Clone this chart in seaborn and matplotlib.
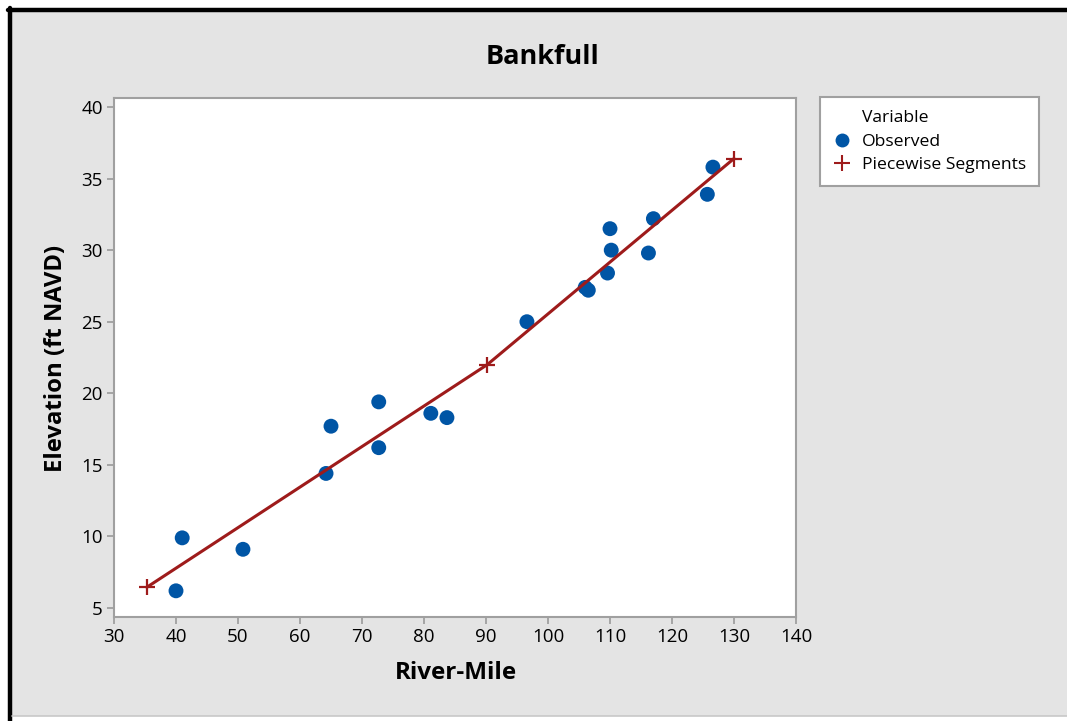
import pandas as pd
import matplotlib.pyplot as plt
import seaborn as sns
from matplotlib.lines import Line2D
from matplotlib.patches import Rectangle

# observed bankfull elevations
river_mile = [40.0, 41.0, 50.8, 64.2, 65.0, 72.7, 72.7, 81.1, 83.7, 96.6,
              106.0, 106.5, 109.6, 110.0, 110.2, 116.2, 117.0, 125.7, 126.6]
elevation = [6.2, 9.9, 9.1, 14.4, 17.7, 19.4, 16.2, 18.6, 18.3, 25.0,
             27.4, 27.2, 28.4, 31.5, 30.0, 29.8, 32.2, 33.9, 35.8]

# piecewise segment break points
seg_mile = [35.3, 90.2, 130.0]
seg_elev = [6.45, 22.0, 36.4]

obs = pd.DataFrame({'River-Mile': river_mile, 'Elevation': elevation})
seg = pd.DataFrame({'River-Mile': seg_mile, 'Elevation': seg_elev})

blue = '#0055a5'
red = '#9e1b1b'
grey_bg = '#e4e4e4'
spine_c = '#a0a0a0'

sns.set_style("white")
plt.rcParams['font.family'] = ['Open Sans', 'DejaVu Sans']
plt.rcParams['text.color'] = 'black'

fig = plt.figure(figsize=(10.67, 7.21), dpi=100, facecolor='white')
W, H = 1067, 721
fig.patches.append(Rectangle((12 / W, 1 - 716 / H), (W - 12) / W, (716 - 12) / H,
                             transform=fig.transFigure, facecolor=grey_bg,
                             edgecolor='none', zorder=-10))
fig.add_artist(Line2D([10 / W, 10 / W], [0, 1 - 8 / H], transform=fig.transFigure,
                      color='black', lw=3.2))
fig.add_artist(Line2D([8 / W, 1], [1 - 10 / H, 1 - 10 / H], transform=fig.transFigure,
                      color='black', lw=3.2))
fig.add_artist(Line2D([12 / W, 1], [1 - 716 / H, 1 - 716 / H], transform=fig.transFigure,
                      color='#c8c8c8', lw=1.2))

ax = fig.add_axes([114 / W, 1 - 617 / H, (796 - 114) / W, (617 - 98) / H])
ax.set_facecolor('white')

sns.lineplot(data=seg, x='River-Mile', y='Elevation', ax=ax, color=red, lw=2.2,
             marker='+', markersize=11, markeredgewidth=1.6, markeredgecolor=red,
             zorder=3, legend=False)
sns.scatterplot(data=obs, x='River-Mile', y='Elevation', ax=ax, color=blue, s=115,
                edgecolor='none', zorder=2, legend=False)

ax.set_xlim(30, 140)
ax.set_ylim(4.37, 40.63)
ax.set_xticks(range(30, 141, 10))
ax.set_yticks(range(5, 41, 5))

for s in ax.spines.values():
    s.set_color(spine_c)
    s.set_linewidth(1.5)
ax.tick_params(axis='both', direction='out', length=5, width=1.3, color=spine_c,
               labelsize=13.5, labelcolor='black', pad=3)
ax.tick_params(axis='x', bottom=True)
ax.tick_params(axis='y', left=True)
ax.set_xlabel('')
ax.set_ylabel('')

fig.text(542 / W, 1 - 57 / H, 'Bankfull', fontsize=19.5, fontweight='bold',
         ha='center', va='center', color='black')
fig.text(456 / W, 1 - 673 / H, 'River-Mile', fontsize=17.5, fontweight='bold',
         ha='center', va='center', color='black')
fig.text(56 / W, 1 - 358 / H, 'Elevation (ft NAVD)', fontsize=17.2, fontweight='bold',
         ha='center', va='center', rotation=90, color='black')

handles = [
    Line2D([], [], linestyle='none'),
    Line2D([], [], linestyle='none', marker='o', markersize=10, color=blue,
           markeredgecolor='none'),
    Line2D([], [], linestyle='none', marker='+', markersize=11, markeredgewidth=1.5,
           color=red),
]
leg = fig.legend(handles, ['Variable', 'Observed', 'Piecewise Segments'],
                 loc='upper left', bbox_to_anchor=(820 / W, 1 - 97 / H),
                 fontsize=12.6, frameon=True, fancybox=False,
                 edgecolor=spine_c, framealpha=1, handletextpad=0.6,
                 handlelength=1.1, borderpad=0.72, labelspacing=0.43,
                 borderaxespad=0, labelcolor='black')
leg.get_frame().set_linewidth(1.5)

fig.savefig('out.png', dpi=100, facecolor=fig.get_facecolor())
